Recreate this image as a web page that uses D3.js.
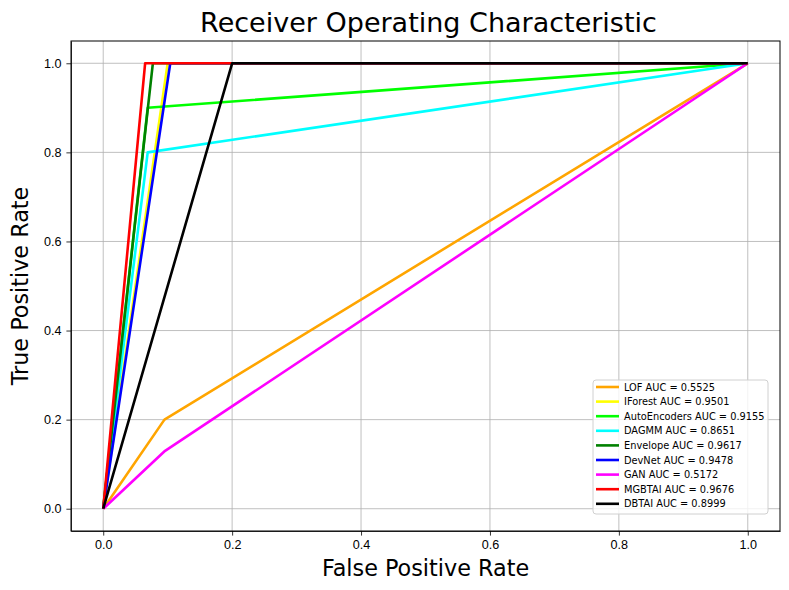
<!DOCTYPE html>
<html>
<head>
<meta charset="utf-8">
<script src="https://d3js.org/d3.v7.min.js"></script>
<style>
    body { margin: 0; background: #fff; }
    svg { font-family: "DejaVu Sans", sans-serif; }
    .grid line { stroke: #b0b0b0; stroke-width: 0.8; }
    .axis text { font-size: 12.6px; fill: #000; }
    .axis path, .axis line { stroke: #000; stroke-width: 0.8; }
</style>
</head>
<body>
<div id="chart"></div>
<script>
    // Series (legend order)
    const names = ['LOF', 'IForest', 'AutoEncoders', 'DAGMM', 'Envelope', 'DevNet', 'GAN', 'MGBTAI', 'DBTAI'];
    const aucs = ['0.5525', '0.9501', '0.9155', '0.8651', '0.9617', '0.9478', '0.5172', '0.9676', '0.8999'];
    const colors = ['orange', 'yellow', 'lime', 'cyan', 'green', 'blue', 'magenta', 'red', 'black'];
    const fprs = [
        [0, 0.095, 1],
        [0, 0.100, 1],
        [0, 0.069, 1],
        [0, 0.069, 1],
        [0, 0.077, 1],
        [0, 0.104, 1],
        [0, 0.096, 1],
        [0, 0.065, 1],
        [0, 0.200, 1]
    ];
    const tprs = [
        [0, 0.20, 1],
        [0, 1.00, 1],
        [0, 0.90, 1],
        [0, 0.80, 1],
        [0, 1.00, 1],
        [0, 1.00, 1],
        [0, 0.13, 1],
        [0, 1.00, 1],
        [0, 1.00, 1]
    ];
    const ticks = [0, 0.2, 0.4, 0.6, 0.8, 1.0];

    const W = 789, H = 590;
    const margin = { top: 41, right: 9, bottom: 59, left: 71 };
    const width = W - margin.left - margin.right;
    const height = H - margin.top - margin.bottom;

    const svg = d3.select('#chart').append('svg')
        .attr('width', W)
        .attr('height', H);

    const g = svg.append('g')
        .attr('transform', `translate(${margin.left},${margin.top})`);

    const x = d3.scaleLinear().domain([-0.05, 1.05]).range([0, width]);
    const y = d3.scaleLinear().domain([-0.05, 1.05]).range([height, 0]);

    // grid
    g.append('g').attr('class', 'grid')
        .selectAll('line.vx').data(ticks).enter().append('line')
        .attr('x1', d => x(d)).attr('x2', d => x(d))
        .attr('y1', 0).attr('y2', height);
    g.append('g').attr('class', 'grid')
        .selectAll('line.hy').data(ticks).enter().append('line')
        .attr('x1', 0).attr('x2', width)
        .attr('y1', d => y(d)).attr('y2', d => y(d));

    // curves
    const line = d3.line().x(d => x(d[0])).y(d => y(d[1]));
    names.forEach((n, i) => {
        const pts = fprs[i].map((f, j) => [f, tprs[i][j]]);
        g.append('path')
            .datum(pts)
            .attr('d', line)
            .attr('fill', 'none')
            .attr('stroke', colors[i])
            .attr('stroke-width', 2.6)
            .attr('stroke-linejoin', 'round')
            .attr('stroke-linecap', 'butt');
    });

    // axes
    g.append('g').attr('class', 'axis')
        .attr('transform', `translate(0,${height})`)
        .call(d3.axisBottom(x).tickValues(ticks).tickFormat(d3.format('.1f')).tickSize(4.6).tickPadding(4.8).tickSizeOuter(0));
    g.append('g').attr('class', 'axis')
        .call(d3.axisLeft(y).tickValues(ticks).tickFormat(d3.format('.1f')).tickSize(4.6).tickPadding(5).tickSizeOuter(0));

    // frame
    g.append('rect')
        .attr('width', width).attr('height', height)
        .attr('fill', 'none').attr('stroke', '#000').attr('stroke-width', 1);

    // labels
    svg.append('text')
        .attr('x', margin.left + width / 2 + 3).attr('y', 32)
        .attr('text-anchor', 'middle')
        .style('font-size', '27px')
        .text('Receiver Operating Characteristic');
    svg.append('text')
        .attr('x', margin.left + width / 2).attr('y', 576)
        .attr('text-anchor', 'middle')
        .style('font-size', '22.3px')
        .text('False Positive Rate');
    svg.append('text')
        .attr('transform', `translate(28,${margin.top + height / 2}) rotate(-90)`)
        .attr('text-anchor', 'middle')
        .style('font-size', '22.3px')
        .text('True Positive Rate');

    // legend
    const lg = g.append('g')
        .attr('transform', `translate(${593 - margin.left},${380 - margin.top})`);
    lg.append('rect')
        .attr('width', 175).attr('height', 134)
        .attr('rx', 3)
        .attr('fill', 'rgba(255,255,255,0.8)')
        .attr('stroke', '#d0d0d0')
        .attr('stroke-width', 1);
    names.forEach((n, i) => {
        const row = lg.append('g').attr('transform', `translate(0,${7 + i * 14.6})`);
        row.append('line')
            .attr('x1', 3).attr('x2', 26)
            .attr('y1', 0).attr('y2', 0)
            .attr('stroke', colors[i])
            .attr('stroke-width', 2.6);
        row.append('text')
            .attr('x', 31).attr('y', 3.5)
            .style('font-size', '9.8px')
            .text(`${n} AUC = ${aucs[i]}`);
    });
</script>
</body>
</html>
